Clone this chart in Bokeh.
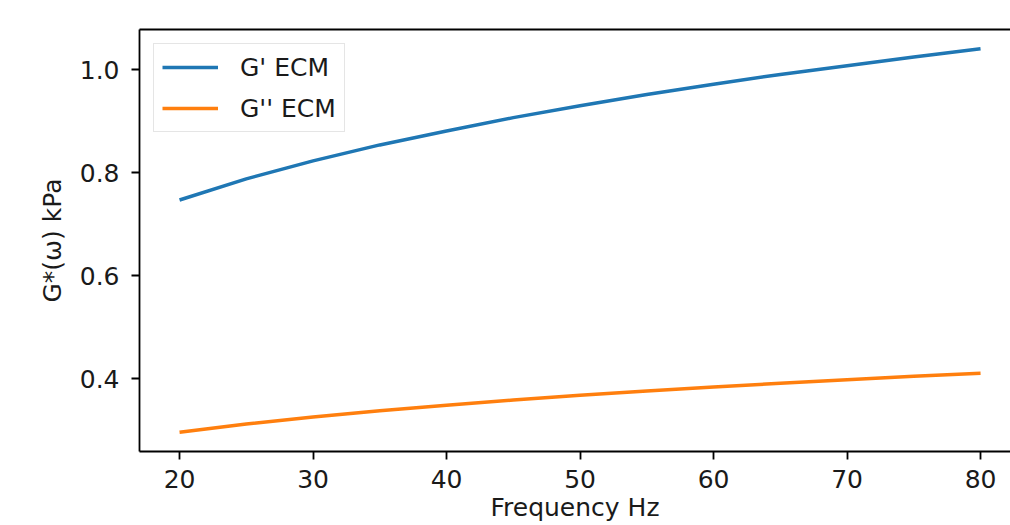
from bokeh.plotting import figure
from bokeh.models import Range1d, LinearAxis, FixedTicker, Legend, LegendItem
from bokeh.embed import file_html
from bokeh.resources import INLINE

freq = [20, 25, 30, 35, 40, 45, 50, 55, 60, 65, 70, 75, 80]
g_storage = [0.747, 0.788, 0.823, 0.854, 0.881, 0.907, 0.930, 0.952, 0.972, 0.991, 1.008, 1.025, 1.041]
g_loss = [0.2955, 0.3115, 0.3253, 0.3374, 0.3482, 0.3582, 0.3673, 0.3757, 0.3835, 0.3909, 0.3978, 0.4044, 0.4103]
x_ticks = [20, 30, 40, 50, 60, 70, 80]
y_ticks = [0.4, 0.6, 0.8, 1.0]
series_names = ["G' ECM", "G'' ECM"]
colors = ["#1f77b4", "#ff7f0e"]

FONT = "DejaVu Sans"
FS = "25px"

W, H = 1010, 525
left, top, bottom = 139, 29, 74
frame_w = W - left

xmin, xmax = min(freq), max(freq)
xpad = 0.05 * (xmax - xmin)
px_per_unit = 13.35
x_start = xmin - xpad
x_end = x_start + frame_w / px_per_unit

allv = g_storage + g_loss
ymin, ymax = min(allv), max(allv)
ypad = 0.05 * (ymax - ymin)

p = figure(width=W, height=H, output_backend="svg", toolbar_location=None,
           x_range=Range1d(x_start, x_end), y_range=Range1d(ymin - ypad, ymax + ypad),
           min_border_left=left, min_border_top=top, min_border_bottom=bottom,
           min_border_right=0)
p.outline_line_color = None
p.grid.visible = False
p.background_fill_color = "white"
p.border_fill_color = "white"

r1 = p.line(freq, g_storage, line_color=colors[0], line_width=3.5)
r2 = p.line(freq, g_loss, line_color=colors[1], line_width=3.5)

for ax in (p.xaxis[0], p.yaxis[0]):
    ax.axis_line_color = "black"
    ax.axis_line_width = 1.8
    ax.major_tick_line_width = 1.8
    ax.major_tick_out = 8
    ax.major_tick_in = 0
    ax.minor_tick_line_color = None
    ax.major_label_text_font = FONT
    ax.major_label_text_font_size = FS
    ax.major_label_text_color = "#1a1a1a"
    ax.axis_label_text_font = FONT
    ax.axis_label_text_font_size = FS
    ax.axis_label_text_font_style = "normal"
    ax.axis_label_text_color = "#1a1a1a"

p.xaxis[0].ticker = FixedTicker(ticks=x_ticks)
p.xaxis[0].major_label_standoff = 10
p.xaxis[0].axis_label = "Frequency Hz"
p.xaxis[0].axis_label_standoff = 2
p.yaxis[0].ticker = FixedTicker(ticks=y_ticks)
p.yaxis[0].major_label_standoff = 12
p.yaxis[0].major_label_overrides = {t: f"{t:.1f}" for t in y_ticks}
p.yaxis[0].axis_label = "G*(ω) kPa"
p.yaxis[0].axis_label_standoff = 10

top_axis = LinearAxis(ticker=FixedTicker(ticks=[]), axis_line_color="black", axis_line_width=1.8,
                      major_tick_line_color=None, minor_tick_line_color=None,
                      major_label_text_font_size="0px")
p.add_layout(top_axis, "above")

legend = Legend(items=[LegendItem(label=series_names[0], renderers=[r1]),
                       LegendItem(label=series_names[1], renderers=[r2])],
                location="top_left")
legend.margin = 14
legend.padding = 8
legend.spacing = 11
legend.glyph_width = 56
legend.glyph_height = 30
legend.label_height = 30
legend.label_standoff = 22
legend.label_text_font = FONT
legend.label_text_font_size = FS
legend.label_text_color = "#1a1a1a"
legend.border_line_color = "#cccccc"
legend.border_line_width = 1.6
legend.background_fill_alpha = 0.8
p.add_layout(legend)

open("out.html", "w").write(file_html(p, INLINE))
